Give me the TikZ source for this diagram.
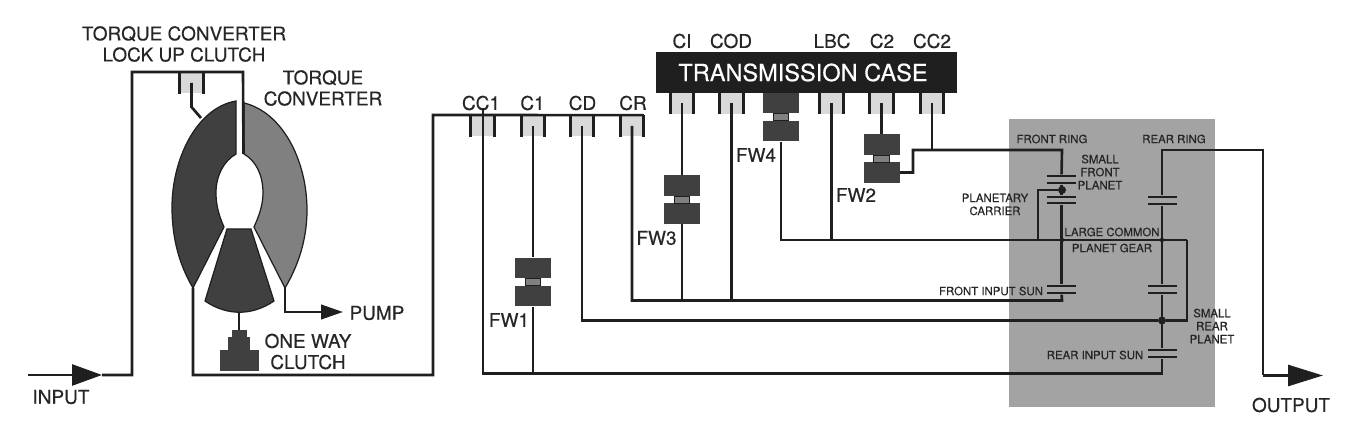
\documentclass[tikz,border=0pt]{standalone}
\usepackage{fontspec}
\setmainfont[FakeBold=0.4]{TeX Gyre Heros}
\usetikzlibrary{arrows.meta}
\definecolor{inkline}{gray}{0.12}
\definecolor{darkpart}{gray}{0.25}
\definecolor{midpart}{gray}{0.50}
\definecolor{panelgray}{gray}{0.64}
\definecolor{clutchgray}{gray}{0.85}
\tikzset{
  shaft/.style={draw=inkline, line width=1.5pt, line join=miter},
  solid part/.style={draw=inkline, line width=0.7pt, fill=darkpart},
  clutchfill/.style={fill=clutchgray, minimum width=0.46cm, minimum height=0.42cm, inner sep=0pt},
  clutchbar/.style={draw=inkline, line width=1.7pt},
  block/.style={fill=darkpart, minimum width=0.72cm, minimum height=0.41cm, inner sep=0pt},
  midblock/.style={fill=midpart, draw=inkline, line width=0.4pt, minimum width=0.31cm, minimum height=0.14cm, inner sep=0pt},
  plate/.style={fill=inkline, minimum width=0.58cm, minimum height=0.05cm, inner sep=0pt},
  junction/.style={circle, fill=inkline, inner sep=0pt},
  biglabel/.style={inner sep=0pt, text=black!85, font=\fontsize{10.8}{12}\selectfont},
  smalllabel/.style={inner sep=0pt, text=black!85, font=\fontsize{6.5}{7.4}\selectfont},
}
\begin{document}
\begin{tikzpicture}[x=0.02cm, y=-0.02cm]
  \useasboundingbox (0,0) rectangle (1348,448);

  % planetary panel
  \fill[panelgray] (1009,119) rectangle (1215,407);

  % transmission case
  \node[fill=inkline, minimum width=6.03cm, minimum height=0.82cm, inner sep=0pt] (case) at (806.5,72.5) {};
  \node[inner sep=0pt, text=white, font=\fontsize{13.4}{15}\selectfont] (caselab) at (803,72.5) {TRANSMISSION CASE};

  % clutches
  \foreach \name/\x/\y in {tc/191.5/83, cc1/482.5/126, c1/533/126, cd/582/126, cr/632/126,
                           ci/682/103.5, cod/731.5/103.5, lbc/831.5/103.5, ctwo/881.5/103.5, cctwo/932/103.5} {
    \node[clutchfill] (\name) at (\x,\y) {};
    \draw[clutchbar] (\name.north west) -- (\name.south west);
    \draw[clutchbar] (\name.north east) -- (\name.south east);
  }

  % one way clutches
  \foreach \name/\x/\y in {fwone/533/268, fwtwo/881.5/144.5, fwthree/682/185.5, fwfour/781/103} {
    \node[block] (\name t) at (\x,\y) {};
    \node[block] (\name b) at (\x,\y+28) {};
    \node[midblock] (\name m) at (\x,\y+14) {};
  }

  % torque converter
  \draw[solid part] (236,101) .. controls (196,108) and (172,160) .. (172,207)
    .. controls (172,240) and (180,266) .. (193,288) -- (224,227)
    .. controls (219,216) and (216,205) .. (216,193) .. controls (216,175) and (224,161) .. (236,154) -- cycle;
  \draw[solid part, fill=midpart] (244,103) .. controls (282,112) and (307,160) .. (307,210)
    .. controls (307,240) and (298,266) .. (285,288) -- (254,227)
    .. controls (259,216) and (263,205) .. (263,193) .. controls (263,175) and (256,161) .. (244,154) -- cycle;
  \draw[solid part] (227,229) -- (251,229) -- (274,301) .. controls (252,316) and (227,316) .. (205,301) -- cycle;
  \coordinate (dark apex) at (193,288);
  \coordinate (light apex) at (285,288);
  \coordinate (stator foot) at (239,313);

  % one way clutch of the stator
  \node[fill=darkpart, minimum width=0.3cm, minimum height=0.16cm, inner sep=0pt] (owc cap) at (239,334) {};
  \node[fill=darkpart, minimum width=0.44cm, minimum height=0.28cm, inner sep=0pt] (owc top) at (239,344) {};
  \node[fill=darkpart, minimum width=0.78cm, minimum height=0.42cm, inner sep=0pt] (owc base) at (239.5,360.5) {};
  \draw[shaft] (stator foot) -- (owc cap);

  % input side
  \coordinate (input start) at (28,375);
  \coordinate (input tip) at (102,375);
  \coordinate (input up) at (132,375);
  \coordinate (lock left) at (132,72);
  \coordinate (lock right) at (243,72);
  \coordinate (hub top) at (243.5,154);
  \draw[shaft, -{Triangle[length=0.6cm, width=0.42cm]}] (input start) -- (input tip);
  \draw[shaft] (input tip) -- (input up) -- (lock left) -- (lock right) -- (hub top);
  \coordinate (lock bend) at (191.5,107);
  \coordinate (lock end) at (201,118);
  \draw[shaft] (tc.center) -- (lock bend) -- (lock end);

  % pump
  \coordinate (pump corner) at (285,312);
  \coordinate (pump tip) at (343,312);
  \draw[shaft, -{Triangle[length=0.44cm, width=0.29cm]}] (light apex) -- (pump corner) -- (pump tip);

  % turbine to clutch drum
  \coordinate (turbine low) at (193,375);
  \coordinate (drum low) at (433,375);
  \coordinate (drum high) at (433,115);
  \draw[shaft] (dark apex) -- (turbine low) -- (drum low) -- (drum high) -- (cr.north east);

  % planetary plates
  \foreach \name/\x/\y in {fa/1061.5/176, fb/1061.5/183, fc/1061.5/197, fd/1061.5/203, fe/1061.5/286, ff/1061.5/293,
                           ra/1162/197, rb/1162/204, rc/1162/286, rd/1162/293, re/1162/350, rf/1162/357} {
    \node[plate] (\name) at (\x,\y) {};
  }
  \node[junction, minimum size=0.16cm] (carrier dot) at (1062,190) {};
  \node[junction, minimum size=0.09cm] (front dot) at (1062,240) {};
  \node[junction, minimum size=0.09cm] (rear dot) at (1162,240) {};
  \node[junction, minimum size=0.16cm] (small dot) at (1162,320.5) {};

  % shafts
  \coordinate (cc1 top) at (483,108);
  \coordinate (main low) at (1162,373.5);
  \draw[shaft] (cc1 top) -- (483,373.5) -- (main low) -- (rf);
  \draw[shaft] (c1.center) -- (fwonet);
  \draw[shaft] (fwoneb) -- (533,373.5);
  \draw[shaft] (cd.center) |- (small dot);
  \draw[shaft] (1187,240) -- (1187,320.5) -- (small dot);
  \draw[shaft] (cr.center) -- (632,300.5) -- (1062,300.5) -- (ff);
  \draw[shaft] (ci.center) -- (fwthreet);
  \draw[shaft] (fwthreeb) -- (682,300.5);
  \draw[shaft] (cod.center) -- (731.5,300.5);
  \draw[shaft] (fwfourb) -- (781,240) -- (1187,240);
  \draw[shaft] (lbc.center) -- (831.5,240);
  \draw[shaft] (ctwo.center) -- (fwtwot);
  \draw[shaft] (fwtwob.east) -- (913,172.5) -- (913,150) -- (1062,150) -- (fa);
  \draw[shaft] (cctwo.center) -- (932,150);
  \draw[shaft] (fb) -- (fc);
  \draw[shaft] (carrier dot) -- (1038,190) -- (1038,240);
  \draw[shaft] (fd) -- (fe);
  \draw[shaft] (ra) -- (1162,150) -- (1263,150) -- (1263,375.5);
  \coordinate (output corner) at (1263,375.5);
  \coordinate (output tip) at (1323,375.5);
  \draw[shaft, -{Triangle[length=0.7cm, width=0.42cm]}] (output corner) -- (output tip);
  \draw[shaft] (rb) -- (rc);
  \draw[shaft] (rd) -- (re);

  % big labels
  \foreach \name/\x/\y/\txt in {cc1lab/481/103/CC1, c1lab/532.5/103/C1, cdlab/582.5/103/CD, crlab/633/103/CR,
                                cilab/682/41/CI, codlab/731/41/COD, lbclab/832/41/LBC, c2lab/882/41/C2, cc2lab/932/41/CC2,
                                fw1lab/509/320/FW1, fw2lab/856/195/FW2, fw3lab/656.5/238/FW3, fw4lab/756/155/FW4,
                                inlab/61/397/INPUT, outlab/1291/405/OUTPUT, pumplab/377/313/PUMP} {
    \node[biglabel] (\name) at (\x,\y) {\txt};
  }
  \node[biglabel, align=center] (lockuplab) at (184,44) {TORQUE CONVERTER\\LOCK UP CLUTCH};
  \node[biglabel, align=center] (tclab) at (323,88) {TORQUE\\CONVERTER};
  \node[biglabel, align=center] (owclab) at (308,351.5) {ONE WAY\\CLUTCH};

  % small labels
  \node[smalllabel] (frlab) at (1052,139) {FRONT RING};
  \node[smalllabel] (rrlab) at (1174,139) {REAR RING};
  \node[smalllabel, align=center] (sfplab) at (1100,172) {SMALL\\FRONT\\PLANET};
  \node[smalllabel, align=center] (pclab) at (995,204.5) {PLANETARY\\CARRIER};
  \node[smalllabel] (lcglab) at (1112,232) {LARGE COMMON};
  \node[smalllabel] (pglab) at (1112,248) {PLANET GEAR};
  \node[smalllabel] (fislab) at (991,291) {FRONT INPUT SUN};
  \node[smalllabel] (rislab) at (1095,355) {REAR INPUT SUN};
  \node[smalllabel, align=center] (srplab) at (1212,326) {SMALL\\REAR\\PLANET};
\end{tikzpicture}
\end{document}
